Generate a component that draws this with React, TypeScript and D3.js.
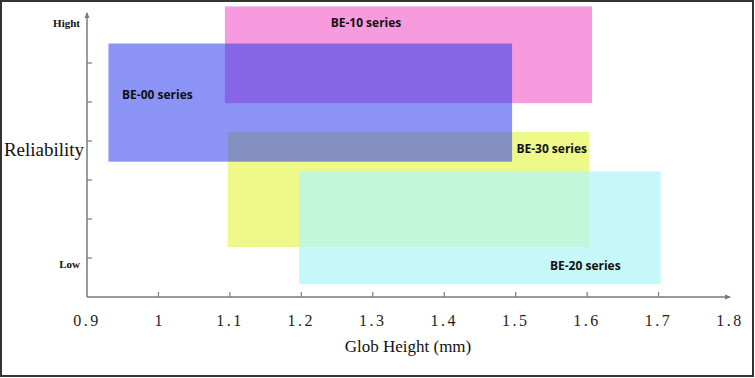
import React from "react";
import * as d3 from "d3";

const series = ["BE-10 series", "BE-30 series", "BE-00 series", "BE-20 series"];
const xStart = [1.093, 1.097, 0.93, 1.197];
const xEnd = [1.607, 1.603, 1.495, 1.703];
const yLow = [4.97, 1.28, 3.47, 0.33];
const yHigh = [7.45, 4.23, 6.5, 3.22];
const colors = ["rgb(247,155,222)", "rgb(238,249,138)", "rgb(44,58,236)", "rgb(180,245,247)"];
const opacities = [1, 1, 0.55, 0.75];
const labelX = [1.241, 1.501, 0.949, 1.548];
const labelY = [7.0, 3.77, 5.15, 0.77];

const xTicks = [0.9, 1.0, 1.1, 1.2, 1.3, 1.4, 1.5, 1.6, 1.7, 1.8];
const xTickLabels = ["0.9", "1", "1.1", "1.2", "1.3", "1.4", "1.5", "1.6", "1.7", "1.8"];
const yTicks = [1, 2, 3, 4, 5, 6];
const yLevelLabels = ["Low", "Hight"];
const yLevelValues = [0.8, 7.0];

const W = 755;
const H = 378;

export default function App() {
  const x = d3.scaleLinear().domain([0.9, 1.8]).range([87, 730]);
  const y = d3.scaleLinear().domain([0, 7]).range([297, 24]);
  const axisColor = "#7a7a7a";
  return (
    <svg
      width={W}
      height={H}
      style={{ position: "absolute", left: 0, top: 0, background: "#fff" }}
    >
      <rect x={1} y={1} width={W - 3} height={H - 3} fill="#fff" stroke="#333" strokeWidth={2} />
      {series.map((s, i) => (
        <rect
          key={s}
          x={x(xStart[i])}
          y={y(yHigh[i])}
          width={x(xEnd[i]) - x(xStart[i])}
          height={y(yLow[i]) - y(yHigh[i])}
          fill={colors[i]}
          fillOpacity={opacities[i]}
        />
      ))}
      {/* axes */}
      <line x1={x(0.9)} y1={y(0)} x2={x(1.8)} y2={y(0)} stroke={axisColor} strokeWidth={1.5} />
      <path d={`M${x(1.8) + 1},${y(0)} l-6,-2.5 l0,5 z`} fill={axisColor} />
      <line x1={x(0.9)} y1={y(0)} x2={x(0.9)} y2={13} stroke={axisColor} strokeWidth={1.5} />
      <path d={`M${x(0.9)},12 l-2.5,6 l5,0 z`} fill={axisColor} />
      {xTicks.slice(1, -1).map((t) => (
        <line key={t} x1={x(t)} x2={x(t)} y1={y(0)} y2={y(0) - 5} stroke={axisColor} strokeWidth={1.2} />
      ))}
      {yTicks.map((t) => (
        <line key={t} x1={x(0.9)} x2={x(0.9) + 5} y1={y(t)} y2={y(t)} stroke={axisColor} strokeWidth={1.2} />
      ))}
      {xTicks.map((t, i) => (
        <text
          key={t}
          x={x(t)}
          y={322}
          textAnchor="middle"
          dominantBaseline="middle"
          fontFamily="'Liberation Serif', 'DejaVu Serif', serif"
          fontSize={16}
          letterSpacing={xTickLabels[i].length > 1 ? 2.5 : 0}
          fill="#222"
        >
          {xTickLabels[i]}
        </text>
      ))}
      {yLevelLabels.map((l, i) => (
        <text
          key={l}
          x={80}
          y={y(yLevelValues[i])}
          textAnchor="end"
          dominantBaseline="middle"
          fontFamily="'Liberation Serif', serif"
          fontWeight="bold"
          fontSize={11}
          fill="#111"
        >
          {l}
        </text>
      ))}
      <text
        x={44}
        y={152}
        textAnchor="middle"
        dominantBaseline="middle"
        fontFamily="'Liberation Serif', serif"
        fontSize={19}
        fill="#111"
      >
        Reliability
      </text>
      <text
        x={408}
        y={348}
        textAnchor="middle"
        dominantBaseline="middle"
        fontFamily="'Liberation Serif', serif"
        fontSize={17}
        fill="#111"
      >
        Glob Height (mm)
      </text>
      {series.map((s, i) => (
        <text
          key={s + "l"}
          x={x(labelX[i])}
          y={y(labelY[i])}
          dominantBaseline="middle"
          fontFamily="'Open Sans', 'DejaVu Sans', sans-serif"
          fontWeight="bold"
          fontSize={12}
          fill="#111"
        >
          {s}
        </text>
      ))}
    </svg>
  );
}
